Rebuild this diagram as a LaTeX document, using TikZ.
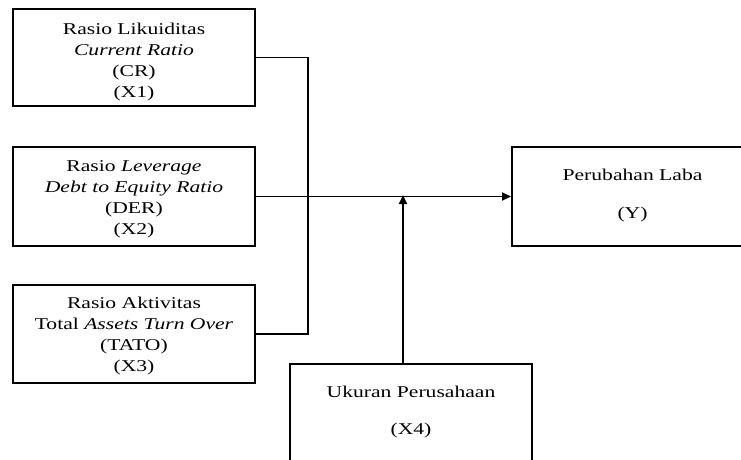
\documentclass[tikz,border=0pt]{standalone}
\usepackage{fontspec}
\setmainfont{Liberation Serif}
\usetikzlibrary{arrows.meta}
\newcommand{\stretchtext}[2][0pt]{\raisebox{#1}[\height][\depth]{\scalebox{1.31}[1]{\begin{tabular}{@{}c@{}}#2\end{tabular}}}}
\tikzset{
  varbox/.style={draw=black, line width=1.9pt, rectangle, inner sep=0pt, align=center,
    font=\fontsize{16.5}{21}\selectfont},
  link/.style={draw=black, line width=1.9pt},
  arrowlink/.style={link, -{Triangle[length=9pt,width=8pt]}}
}
\begin{document}
\begin{tikzpicture}[x=1pt,y=-1pt]
\useasboundingbox (0,0) rectangle (741,459);
\clip (0,0) rectangle (741,459);
\fill[white] (0,0) rectangle (741,459);
\node[varbox, minimum width=242pt, minimum height=97pt] (x1) at (134,57.5)
  {\stretchtext[-4pt]{Rasio Likuiditas\\ \textit{Current Ratio}\\ (CR)\\ (X1)}};
\node[varbox, minimum width=242pt, minimum height=99pt] (x2) at (134,196.5)
  {\stretchtext[-2.5pt]{Rasio \textit{Leverage}\\ \textit{Debt to Equity Ratio}\\ (DER)\\ (X2)}};
\node[varbox, minimum width=242pt, minimum height=98pt] (x3) at (134,334)
  {\stretchtext[-1.5pt]{Rasio Aktivitas\\ Total \textit{Assets Turn Over}\\ (TATO)\\ (X3)}};
\node[varbox, minimum width=241pt, minimum height=99pt] (y) at (632.5,196.5)
  {\stretchtext[1pt]{Perubahan Laba\\[17pt] (Y)}};
\node[varbox, minimum width=242pt, minimum height=98pt] (x4) at (411,413)
  {\stretchtext[1pt]{Ukuran Perusahaan\\[16pt] (X4)}};
\coordinate (j) at (308,195);
\coordinate (m) at (403,195);
\draw[link] (x1.east) -| (j);
\draw[link] (x3.east) -| (j);
\draw[arrowlink] (x2.east) -- (y.west);
\draw[arrowlink] (x4.north -| m) -- (m);
\end{tikzpicture}
\end{document}
